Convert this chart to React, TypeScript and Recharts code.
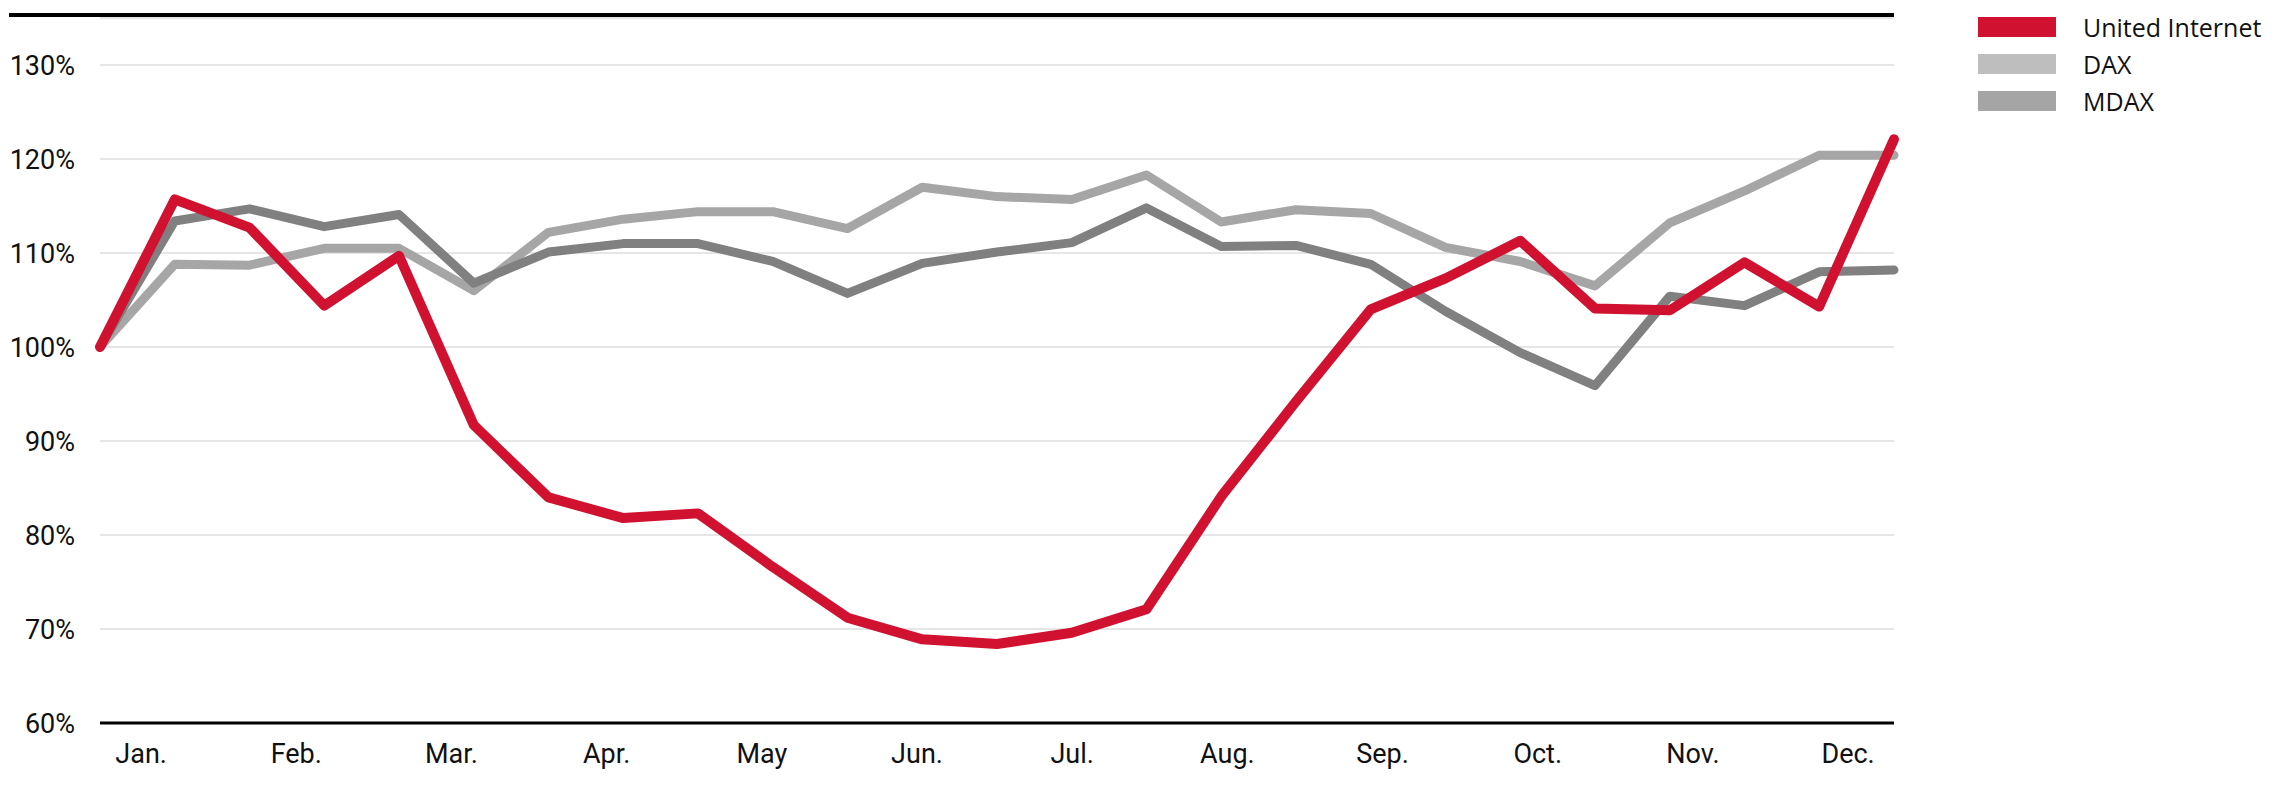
import { LineChart, Line, XAxis, YAxis, CartesianGrid } from 'recharts';

// semi-monthly index values (start of year = 100%)
const periods = Array.from({ length: 25 }, (_, i) => i);
const unitedInternet = [
  100, 115.7, 112.7, 104.4, 109.7, 91.7, 84.0, 81.8, 82.3, 76.6, 71.2, 68.9, 68.4,
  69.6, 72.1, 84.1, 94.2, 104.0, 107.3, 111.3, 104.1, 103.9, 109.0, 104.3, 122.1,
];
const dax = [
  100, 108.8, 108.7, 110.5, 110.5, 106.0, 112.2, 113.6, 114.4, 114.4, 112.6, 117.0, 116.0,
  115.7, 118.3, 113.3, 114.6, 114.2, 110.6, 109.1, 106.5, 113.2, 116.6, 120.4, 120.4,
];
const mdax = [
  100, 113.4, 114.7, 112.8, 114.1, 106.8, 110.1, 111.0, 111.0, 109.1, 105.7, 108.9, 110.1,
  111.1, 114.8, 110.7, 110.8, 108.8, 103.8, 99.4, 95.9, 105.4, 104.4, 108.0, 108.2,
];
const months = ['Jan.', 'Feb.', 'Mar.', 'Apr.', 'May', 'Jun.', 'Jul.', 'Aug.', 'Sep.', 'Oct.', 'Nov.', 'Dec.'];
const yTicks = [60, 70, 80, 90, 100, 110, 120, 130];

const series = [
  { key: 'dax', name: 'DAX', color: '#a6a6a6', legend: '#bebebe', width: 9 },
  { key: 'mdax', name: 'MDAX', color: '#808080', legend: '#a5a5a5', width: 9 },
  { key: 'ui', name: 'United Internet', color: '#d0112f', legend: '#d0112f', width: 10 },
];
const legendOrder = ['ui', 'dax', 'mdax'];

const data = periods.map((t, i) => ({
  t,
  ui: unitedInternet[i],
  dax: dax[i],
  mdax: mdax[i],
}));

// month labels sit slightly right of the first point of each month
const monthTicks = months.map((_, i) => 0.55 + i * 2.076);

const axisFont = { fontFamily: 'Roboto', fontSize: 27, fill: '#111' };

export default function App() {
  return (
    <div style={{ position: 'absolute', left: 0, top: 0, width: 2290, height: 788, background: '#fff' }}>
      <div style={{ position: 'absolute', left: 9, top: 13, width: 1885, height: 4, background: '#000' }} />
      <div style={{ position: 'absolute', left: 0, top: 0 }}>
        <LineChart width={1910} height={788} data={data} margin={{ top: 18, right: 16, bottom: 25, left: 1 }}>
          <CartesianGrid vertical={false} stroke="#dedede" strokeWidth={1.5} />
          <XAxis
            dataKey="t"
            type="number"
            domain={[0, 24]}
            ticks={monthTicks}
            interval={0}
            tickFormatter={(_v: number, idx: number) => months[idx]}
            height={40}
            tickLine={false}
            tickSize={0}
            tickMargin={21}
            axisLine={{ stroke: '#000', strokeWidth: 3 }}
            tick={axisFont}
          />
          <YAxis
            type="number"
            domain={[60, 135]}
            ticks={yTicks}
            interval={0}
            width={99}
            tickFormatter={(v: number) => `${v}%`}
            tickLine={false}
            tickSize={0}
            tickMargin={25}
            axisLine={false}
            tick={axisFont}
          />
          {series.map((s) => (
            <Line
              key={s.key}
              dataKey={s.key}
              name={s.name}
              stroke={s.color}
              strokeWidth={s.width}
              strokeLinejoin="round"
              strokeLinecap="round"
              dot={false}
              activeDot={false}
              isAnimationActive={false}
            />
          ))}
        </LineChart>
      </div>
      {legendOrder.map((k, i) => {
        const s = series.find((x) => x.key === k)!;
        return (
          <div
            key={k}
            style={{ position: 'absolute', left: 1978, top: 17 + i * 37, height: 20, display: 'flex', alignItems: 'center' }}
          >
            <div style={{ width: 78, height: 20, background: s.legend }} />
            <span
              style={{
                marginLeft: 27,
                fontFamily: '"Open Sans"',
                fontSize: 25,
                color: '#111',
                whiteSpace: 'nowrap',
                lineHeight: '20px',
              }}
            >
              {s.name}
            </span>
          </div>
        );
      })}
    </div>
  );
}
